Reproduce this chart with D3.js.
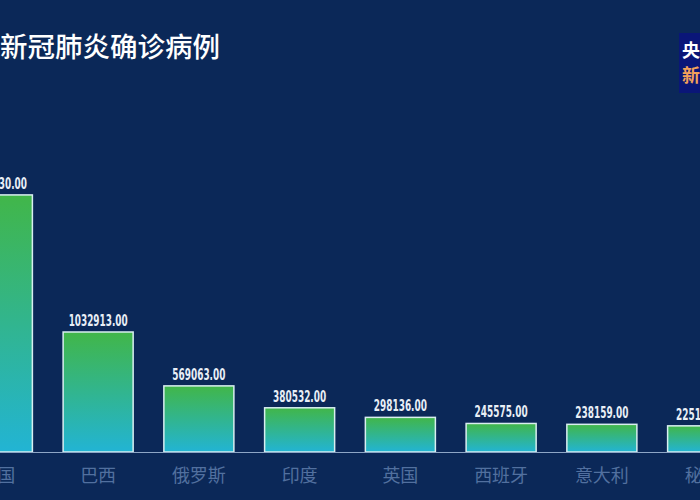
<!DOCTYPE html>
<html><head><meta charset="utf-8">
<script src="https://cdn.jsdelivr.net/npm/d3@7/dist/d3.min.js"></script>
<style>html,body{margin:0;padding:0;background:#0b2858;overflow:hidden}</style>
</head><body>
<svg id="c" width="700" height="500"></svg>
<script>
const categories = ["美国","巴西","俄罗斯","印度","英国","西班牙","意大利","秘鲁"];
const values = [2212830, 1032913, 569063, 380532, 298136, 245575, 238159, 225132];
const title = "新冠肺炎确诊病例";

const W = 700, H = 500;
const svg = d3.select("#c");
svg.append("rect").attr("width", W).attr("height", H).attr("fill", "#0b2858");

const defs = svg.append("defs");
const g = defs.append("linearGradient").attr("id", "grad").attr("x1", 0).attr("y1", 0).attr("x2", 0).attr("y2", 1);
g.append("stop").attr("offset", "0%").attr("stop-color", "#41b649");
g.append("stop").attr("offset", "100%").attr("stop-color", "#22b4d4");

const base = 452;
const x = d3.scaleBand().domain(categories).range([-53, 753]).padding(0);
const bw = x.bandwidth() * 0.695;
const y = d3.scaleLinear().domain([0, 1032913]).range([base, 332]);

svg.selectAll("rect.bar").data(categories).join("rect")
  .attr("class", "bar")
  .attr("x", d => x(d) + (x.bandwidth() - bw) / 2)
  .attr("width", bw)
  .attr("y", (d, i) => y(values[i]))
  .attr("height", (d, i) => base - y(values[i]))
  .attr("fill", "url(#grad)")
  .attr("stroke", "#d8eef0")
  .attr("stroke-width", 1.5);

svg.append("line").attr("x1", 0).attr("x2", W).attr("y1", base + 0.5).attr("y2", base + 0.5)
  .attr("stroke", "#8ea6c6").attr("stroke-width", 1);

const fmt = d3.format(".2f");
svg.selectAll("text.val").data(categories).join("text")
  .attr("class", "val")
  .attr("x", d => x(d) + x.bandwidth() / 2)
  .attr("y", (d, i) => y(values[i]) - 6)
  .attr("text-anchor", "middle")
  .attr("fill", "#e8eef6")
  .attr("font-family", "DejaVu Sans Condensed")
  .attr("font-weight", "bold")
  .attr("font-size", 15)
  .attr("lengthAdjust", "spacingAndGlyphs")
  .attr("textLength", (d, i) => fmt(values[i]).length * 5.9)
  .text((d, i) => fmt(values[i]));

const xAxis = d3.axisBottom(x).tickSize(0).tickPadding(0);
const ax = svg.append("g").attr("transform", `translate(0,${base + 30})`).call(xAxis);
ax.select(".domain").remove();
ax.selectAll("text").attr("fill", "#52709f").attr("font-size", 18)
  .attr("font-family", "Noto Sans CJK SC").attr("dy", 0);

svg.append("text").attr("x", 0).attr("y", 57).attr("fill", "#ffffff")
  .attr("font-family", "Noto Sans CJK SC").attr("font-weight", 500).attr("font-size", 27.5).text(title);

svg.append("rect").attr("x", 679).attr("y", 33).attr("width", 30).attr("height", 60).attr("fill", "#0a1678");
svg.append("text").attr("x", 682).attr("y", 57).attr("fill", "#ffffff").attr("font-family", "Noto Sans CJK SC")
  .attr("font-weight", "bold").attr("font-size", 18).text("央视");
svg.append("text").attr("x", 682).attr("y", 82).attr("fill", "#f3a15a").attr("font-family", "Noto Sans CJK SC")
  .attr("font-weight", "bold").attr("font-size", 18).text("新闻");
</script>
</body></html>
